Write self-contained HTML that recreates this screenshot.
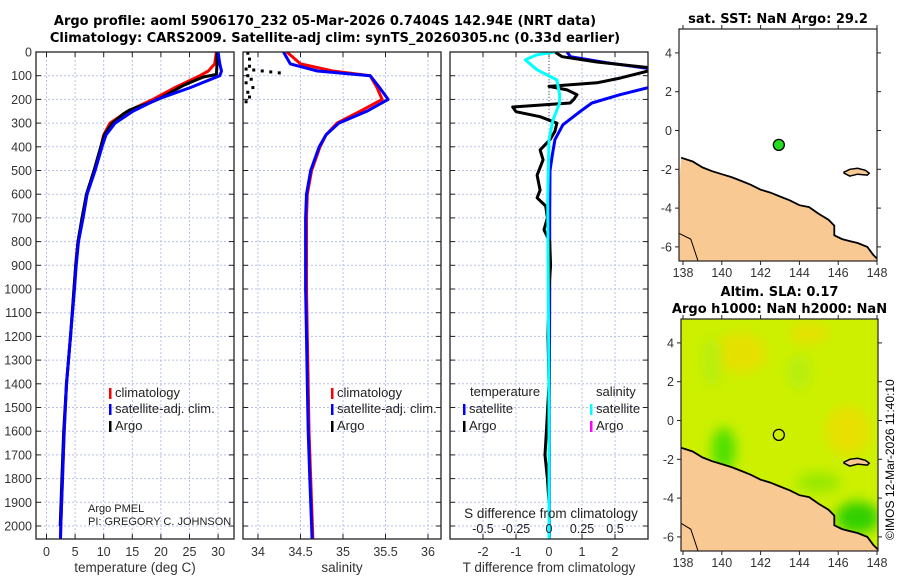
<!DOCTYPE html>
<html><head><meta charset="utf-8"><style>
html,body{margin:0;padding:0;background:#fff}
svg{display:block;font-family:"Liberation Sans","DejaVu Sans",sans-serif}
</style></head><body>
<svg id="fig" width="900" height="580" viewBox="0 0 900 580" xmlns="http://www.w3.org/2000/svg">
<text x="325" y="25" font-size="13" font-weight="bold" text-anchor="middle" font-family="DejaVu Sans, sans-serif">Argo profile: aoml 5906170_232 05-Mar-2026 0.7404S 142.94E (NRT data)</text>
<text x="335" y="42" font-size="13" font-weight="bold" text-anchor="middle" font-family="DejaVu Sans, sans-serif">Climatology: CARS2009. Satellite-adj clim: synTS_20260305.nc (0.33d earlier)</text>
<g id="p1"></g>
<g id="p2"></g>
<g id="p3"></g>
<g id="m1"></g>
<g id="m2"></g>
<text x="0" y="0" font-size="12" transform="translate(894,540) rotate(-90)">©IMOS 12-Mar-2026 11:40:10</text>
</svg>
<script>
// ---- data ----
const depthTicks = [0,100,200,300,400,500,600,700,800,900,1000,1100,1200,1300,1400,1500,1600,1700,1800,1900,2000];
const tempTicks = [0,5,10,15,20,25,30];
const salTicks = [34,34.5,35,35.5,36];
const tdiffTicks = [-2,-1,0,1,2];
const sdiffTicks = [-0.5,-0.25,0,0.25,0.5];
const sdiffLabels = ["-0.5","-0.25","0","0.25","0.5"];
const lonTicks = [138,140,142,144,146,148];
const latTicks = [4,2,0,-2,-4,-6];

const climDepth = [0,50,80,100,150,200,250,300,350,400,500,600,700,800,900,1000,1200,1400,1600,1800,2000,2100];
const climTemp = [29.7,29.4,28.3,26.8,22.5,18.6,14.2,11.1,10.0,9.5,8.4,7.0,6.3,5.5,5.1,4.8,4.2,3.5,3.1,2.8,2.5,2.4];
const satTemp = [30.0,30.3,30.6,30.3,25.2,19.3,15.1,12.0,10.4,9.7,8.5,7.1,6.4,5.6,5.2,4.9,4.2,3.5,3.1,2.8,2.5,2.4];
const argoDepth = [0,50,95,105,120,140,160,180,200,220,235,245,260,300,350,400,450,500,600,700,800,900,1000,1200,1400,1600,1800,2000];
const argoTemp = [29.8,29.8,29.7,27.5,26.0,24.0,22.5,21.0,19.5,17.5,15.5,14.5,13.5,11.5,10.1,9.5,8.9,8.3,7.0,6.2,5.5,5.1,4.8,4.2,3.5,3.0,2.7,2.4];

const climSal = [34.34,34.50,34.88,35.32,35.40,35.46,35.20,34.93,34.80,34.73,34.63,34.58,34.57,34.57,34.57,34.57,34.58,34.59,34.60,34.62,34.64,34.65];
const satSal = [34.30,34.38,34.70,35.32,35.43,35.53,35.28,34.95,34.80,34.72,34.62,34.57,34.56,34.56,34.56,34.56,34.57,34.58,34.59,34.61,34.63,34.64];
const argoSalDepth = [5,30,60,72,76,80,84,88,100,115,130,150,170,190,210];
const argoSal = [33.88,33.9,33.9,33.86,33.95,34.05,34.15,34.25,33.88,33.92,33.86,33.94,33.88,33.9,33.86];

const tdSatDepth = [0,20,45,75,140,180,215,245,307,370,435,500,700,1000,1500,2000,2100];
const tdSat = [0.55,0.65,1.75,3.3,3.3,2.15,1.3,1.0,0.42,0.18,0.1,0.03,0.02,0.02,0.01,0.01,0.01];
const tdArgoDepth = [0,20,42,70,110,130,145,160,180,200,215,232,252,273,300,335,370,413,455,520,583,615,650,700,750,800,900,1000,1200,1400,1600,1700,1800,1900,2000];
const tdArgo = [0.18,0.4,1.45,3.3,2.15,1.45,0.0,0.55,0.85,0.75,0.64,-1.1,-1.0,-0.27,0.24,0.18,0.03,-0.27,-0.18,-0.36,-0.27,-0.36,-0.1,-0.05,-0.15,0.02,0.05,0.0,-0.03,0.0,-0.08,-0.12,-0.05,0.0,0.0];
const sdSatDepth = [0,12,33,75,118,180,215,287,370,625,1000,1500,2000,2100];
const sdSat = [0.045,-0.09,-0.18,-0.09,0.06,0.08,0.08,0.03,0.0,-0.01,-0.005,0,0,0];

const coastLon = [137.9,138.5,139,139.5,140,140.5,141,141.5,142,142.5,143,143.5,144,144.5,145,145.5,145.8,145.8,146.2,146.6,147,147.5,147.8,148.1];
const coastLat = [-1.4,-1.6,-1.9,-2.1,-2.25,-2.4,-2.6,-2.8,-3.05,-3.2,-3.4,-3.6,-3.85,-3.95,-4.3,-4.6,-4.9,-5.4,-5.6,-5.7,-5.8,-6.0,-6.4,-6.7];
const islandLon = [146.3,146.6,147.0,147.4,147.6,147.5,147.0,146.6,146.3];
const islandLat = [-2.15,-2.0,-1.95,-2.05,-2.2,-2.3,-2.25,-2.35,-2.2];
const argoLon = [142.94];
const argoLat = [-0.74];

// ---- helpers ----
const NS='http://www.w3.org/2000/svg';
function mk(parent,tag,attrs){const e=document.createElementNS(NS,tag);for(const k in attrs)e.setAttribute(k,attrs[k]);parent.appendChild(e);return e;}
const yTop=52, yPer=0.237; // px per m
function yD(d){return yTop+d*yPer;}
const pBottom=539;

function panel(g,x0,x1,xs,ticks,labels,title,clipId){
  mk(g,'rect',{x:x0,y:yTop,width:x1-x0,height:pBottom-yTop,fill:'#fff'});
  const cp=mk(document.getElementById('fig'),'clipPath',{id:clipId});
  mk(cp,'rect',{x:x0,y:yTop,width:x1-x0,height:pBottom-yTop});
  depthTicks.forEach(d=>{
    const l=mk(g,'line',{x1:x0,x2:x1,y1:yD(d),y2:yD(d),stroke:'#b8c0e8','stroke-dasharray':'2,2','stroke-width':1});
    
    
    mk(g,'line',{x1:x0,x2:x0+5,y1:yD(d),y2:yD(d),stroke:'#222'});
    mk(g,'line',{x1:x1-5,x2:x1,y1:yD(d),y2:yD(d),stroke:'#222'});
  });
  ticks.forEach((t,i)=>{
    const l=mk(g,'line',{x1:xs(t),x2:xs(t),y1:yTop,y2:pBottom,stroke:'#b8c0e8','stroke-dasharray':'2,2'});
    
    
    mk(g,'line',{x1:xs(t),x2:xs(t),y1:pBottom-5,y2:pBottom,stroke:'#222'});
    mk(g,'line',{x1:xs(t),x2:xs(t),y1:yTop,y2:yTop+5,stroke:'#222'});
    const tx=mk(g,'text',{x:xs(t),y:pBottom+17,'font-size':12.5,'text-anchor':'middle',fill:'#333'});
    tx.textContent=labels?labels[i]:String(t);
    
    
  });
  const tt=mk(g,'text',{x:(x0+x1)/2,y:572,'font-size':13.5,'text-anchor':'middle',fill:'#333'});
  tt.textContent=title;
  
  
}
function frame(g,x0,x1){mk(g,'rect',{x:x0,y:yTop,width:x1-x0,height:pBottom-yTop,fill:'none',stroke:'#222','stroke-width':1.3});}
function line(g,xs,xsArr,ds,color,w,clip,name){
  const pts=ds.map((d,i)=>xs(xsArr[i]).toFixed(1)+','+yD(d).toFixed(1)).join(' ');
  const p=mk(g,'polyline',{points:pts,fill:'none',stroke:color,'stroke-width':w,'stroke-linejoin':'round','clip-path':'url(#'+clip+')'});
  
  
}
function leg(g,x,y,color,label){
  mk(g,'rect',{x:x,y:y-9,width:2.5,height:11,fill:color});
  const t=mk(g,'text',{x:x+6,y:y,'font-size':13,fill:'#222'});t.textContent=label;
  
  
}

// ---- temperature panel ----
const g1=document.getElementById('p1');
const xT=t=>46.5+5.72*t;
panel(g1,36,234,xT,tempTicks,null,'temperature (deg C)','c1');
depthTicks.forEach(d=>{const t=mk(g1,'text',{x:32,y:yD(d)+4.5,'font-size':12.5,'text-anchor':'end',fill:'#333'});t.textContent=d;
  
  });
line(g1,xT,climTemp,climDepth,'#f00',3,'c1','temp-climatology-line');
line(g1,xT,argoTemp,argoDepth,'#000',3,'c1','temp-argo-line');
line(g1,xT,satTemp,climDepth,'#00f',3,'c1','temp-satellite-line');
frame(g1,36,234);
leg(g1,109,397,'#f00','climatology');leg(g1,109,413,'#00f','satellite-adj. clim.');leg(g1,109,430,'#000','Argo');
let a=mk(g1,'text',{x:88,y:512,'font-size':11,fill:'#222'});a.textContent='Argo PMEL';

a=mk(g1,'text',{x:88,y:525,'font-size':11,fill:'#222'});a.textContent='PI: GREGORY C. JOHNSON';


// ---- salinity panel ----
const g2=document.getElementById('p2');
const xS=s=>258+85*(s-34);
panel(g2,243,441,xS,salTicks,null,'salinity','c2');
line(g2,xS,climSal,climDepth,'#f00',3,'c2','salinity-climatology-line');
line(g2,xS,satSal,climDepth,'#00f',3,'c2','salinity-satellite-line');
argoSal.forEach((s,i)=>{const r=mk(g2,'rect',{x:Math.max(244,xS(s))-1.5,y:yD(argoSalDepth[i])-1.5,width:3,height:3,fill:'#000','clip-path':'url(#c2)'});
  
  });
frame(g2,243,441);
leg(g2,331,397,'#f00','climatology');leg(g2,331,413,'#00f','satellite-adj. clim.');leg(g2,331,430,'#000','Argo');

// ---- difference panel ----
const g3=document.getElementById('p3');
const xTD=t=>549+33*t;
const xSD=s=>549+132*s;
panel(g3,450,648,xTD,tdiffTicks,null,'T difference from climatology','c3');
mk(g3,'line',{x1:549,x2:549,y1:yTop,y2:yD(300),stroke:'#555','stroke-dasharray':'1,2'});
line(g3,xTD,tdSat,tdSatDepth,'#00f',3,'c3','tdiff-satellite-line');
line(g3,xTD,tdArgo,tdArgoDepth,'#000',3,'c3','tdiff-argo-line');
line(g3,xSD,sdSat,sdSatDepth,'#0ff',3,'c3','sdiff-satellite-line');
frame(g3,450,648);
a=mk(g3,'text',{x:470,y:396,'font-size':13,fill:'#222'});a.textContent='temperature';

a=mk(g3,'text',{x:596,y:396,'font-size':13,fill:'#222'});a.textContent='salinity';

leg(g3,463,413,'#00f','satellite');leg(g3,463,430,'#000','Argo');
leg(g3,590,413,'#0ff','satellite');leg(g3,590,430,'#f0f','Argo');
a=mk(g3,'text',{x:551,y:518,'font-size':13.5,'text-anchor':'middle',fill:'#222'});a.textContent='S difference from climatology';

sdiffTicks.forEach((s,i)=>{const t=mk(g3,'text',{x:xSD(s),y:533,'font-size':12.5,'text-anchor':'middle',fill:'#222'});t.textContent=sdiffLabels[i];
  
  });

// ---- maps ----
function map(g,x0,y0,x1,y1,lat0y,title,title2,titleY,sla){
  const lx=lon=>683+19.4*(lon-138);
  const ly=lat=>lat0y-19.4*lat;
  const id='cm'+titleY;
  const cp=mk(document.getElementById('fig'),'clipPath',{id:id});
  mk(cp,'rect',{x:x0,y:y0,width:x1-x0,height:y1-y0});
  const inner=mk(g,'g',{'clip-path':'url(#'+id+')'});
  if(sla){
    const defs=mk(document.getElementById('fig'),'defs',{});
    const f=mk(defs,'filter',{id:'blur'+titleY,x:'-50%',y:'-50%',width:'200%',height:'200%'});
    mk(f,'feGaussianBlur',{stdDeviation:6});
    mk(inner,'rect',{x:x0,y:y0,width:x1-x0,height:y1-y0,fill:'#ccf000'});
    const bl=mk(inner,'g',{filter:'url(#blur'+titleY+')'});
    mk(bl,'ellipse',{cx:lx(141),cy:ly(3.5),rx:25,ry:20,fill:'#e6e000'});
    mk(bl,'ellipse',{cx:lx(144.5),cy:ly(4.5),rx:20,ry:10,fill:'#e6e000'});
    mk(bl,'ellipse',{cx:lx(146.5),cy:ly(-0.5),rx:22,ry:25,fill:'#e8e000'});
    mk(bl,'ellipse',{cx:lx(139.5),cy:ly(3),rx:10,ry:25,fill:'#b8ee10'});
    mk(bl,'ellipse',{cx:lx(144),cy:ly(2.5),rx:12,ry:18,fill:'#b8ee10'});
    mk(bl,'ellipse',{cx:lx(140.1),cy:ly(-1.5),rx:12,ry:22,fill:'#50e000'});
    mk(bl,'ellipse',{cx:lx(147),cy:ly(-5),rx:22,ry:16,fill:'#30d000'});
    mk(bl,'ellipse',{cx:lx(145),cy:ly(-3.2),rx:22,ry:10,fill:'#98e800'});
  } else {
    mk(inner,'rect',{x:x0,y:y0,width:x1-x0,height:y1-y0,fill:'#fff'});
  }
  const pts=coastLon.map((l,i)=>lx(l).toFixed(1)+','+ly(coastLat[i]).toFixed(1));
  const land=mk(inner,'polygon',{points:pts.join(' ')+' '+lx(148.5)+','+(y1+5)+' '+lx(137.5)+','+(y1+5),fill:'#f9c994'});
  
  
  mk(inner,'polyline',{points:pts.join(' '),fill:'none',stroke:'#000','stroke-width':1.8});
  mk(inner,'polygon',{points:islandLon.map((l,i)=>lx(l).toFixed(1)+','+ly(islandLat[i]).toFixed(1)).join(' '),fill:'#f9c994',stroke:'#000','stroke-width':1.5});
  mk(inner,'polygon',{points:`${x0},${ly(-5.3)} ${lx(138.4)},${ly(-5.6)} ${lx(138.8)},${ly(-6.8)} ${x0},${y1}`,fill:'#f9c994',stroke:'#000','stroke-width':1});
  argoLon.forEach((lo,i)=>{
    const c=mk(inner,'circle',{cx:lx(lo),cy:ly(argoLat[i]),r:5.5,fill:sla?'none':'#22dd22',stroke:'#000','stroke-width':1.3});
    
    
  });
  mk(g,'rect',{x:x0,y:y0,width:x1-x0,height:y1-y0,fill:'none',stroke:'#222','stroke-width':1.2});
  latTicks.forEach(t=>{
    mk(g,'line',{x1:x0-4,x2:x0,y1:ly(t),y2:ly(t),stroke:'#222'});
    mk(g,'line',{x1:x1,x2:x1+4,y1:ly(t),y2:ly(t),stroke:'#222'});
    const tx=mk(g,'text',{x:x0-7,y:ly(t)+4.5,'font-size':12.5,'text-anchor':'end',fill:'#333'});tx.textContent=t;
    
    
  });
  lonTicks.forEach(t=>{
    mk(g,'line',{x1:lx(t),x2:lx(t),y1:y1,y2:y1+4,stroke:'#222'});
    mk(g,'line',{x1:lx(t),x2:lx(t),y1:y0-4,y2:y0,stroke:'#222'});
    const tx=mk(g,'text',{x:lx(t),y:y1+16,'font-size':12.5,'text-anchor':'middle',fill:'#333'});tx.textContent=t;
    
    
  });
  let t=mk(g,'text',{x:(x0+x1)/2,y:titleY,'font-size':13,'font-weight':'bold','text-anchor':'middle','font-family':'DejaVu Sans, sans-serif'});t.textContent=title;
  
  if(title2){t=mk(g,'text',{x:(x0+x1)/2,y:titleY+17,'font-size':13,'font-weight':'bold','text-anchor':'middle','font-family':'DejaVu Sans, sans-serif'});t.textContent=title2;
  }
}
map(document.getElementById('m1'),679,29,877,261,130.5,'sat. SST: NaN Argo: 29.2',null,23,false);
map(document.getElementById('m2'),681,319,878,551,420.5,'Altim. SLA: 0.17','Argo h1000: NaN h2000: NaN',296,true);
</script>
</body></html>
